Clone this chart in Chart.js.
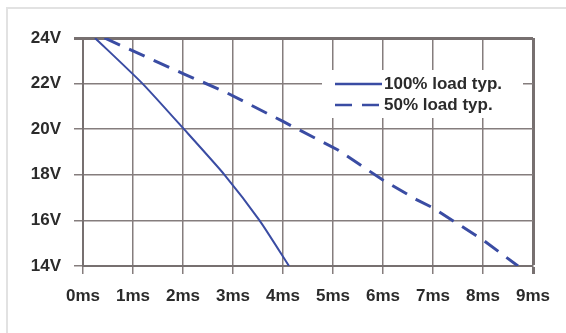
<!DOCTYPE html>
<html>
<head>
<meta charset="utf-8">
<script src="https://cdn.jsdelivr.net/npm/chart.js@4/dist/chart.umd.min.js"></script>
<style>
  html, body { margin: 0; padding: 0; background: #fff; }
  #wrap { position: relative; width: 566px; height: 333px; overflow: hidden; }
  #frame { position: absolute; left: 6px; top: 7px; width: 600px; height: 400px;
           border-left: 2px solid #e2e2e2; border-top: 2px solid #e2e2e2; }
  canvas { position: absolute; left: 0; top: 0; }
</style>
</head>
<body>
<div id="wrap">
  <div id="frame"></div>
  <canvas id="hold" width="566" height="333"></canvas>
</div>
<script>
// hold-up time curves
var labels = ["100% load typ.", "50% load typ."];
var fullTime = [0.24, 1.19, 2.02, 2.83, 3.53, 4.12];
var fullVolt = [24, 22, 20, 18, 16, 14];
var halfTime = [0.43, 2.0, 2.82, 4.0, 5.09, 5.99, 6.68, 7.0, 8.0, 8.7];
var halfVolt = [24, 22.44, 21.66, 20.34, 19.1, 17.78, 16.9, 16.55, 15.14, 14];
var xTicks = ["0ms", "1ms", "2ms", "3ms", "4ms", "5ms", "6ms", "7ms", "8ms", "9ms"];
var yTicks = ["14V", "16V", "18V", "20V", "22V", "24V"];

function pts(xs, ys) {
  var out = [];
  for (var i = 0; i < xs.length; i++) out.push({x: xs[i], y: ys[i]});
  return out;
}

var blue = "#3a4ca3";
var gridCol = "#857d7d";
var edgeCol = "#777070";
var textCol = "#2b2b2b";
var font = "'Liberation Sans', Arial, sans-serif";

// white box + legend drawn inside the plot
var boxLegend = {
  id: "boxLegend",
  afterDraw: function(chart) {
    var c = chart.ctx;
    c.save();
    c.fillStyle = "#fff";
    c.fillRect(322, 70, 201, 48);
    c.strokeStyle = blue;
    c.lineWidth = 2.5;
    c.beginPath();
    c.moveTo(335, 84); c.lineTo(382, 84);
    c.stroke();
    c.setLineDash([17, 10]);
    c.beginPath();
    c.moveTo(335, 105); c.lineTo(382, 105);
    c.stroke();
    c.setLineDash([]);
    c.fillStyle = textCol;
    c.font = "bold 17px " + font;
    c.textBaseline = "middle";
    c.fillText(labels[0], 384, 84);
    c.fillText(labels[1], 384, 105);
    c.restore();
  }
};

var ctx = document.getElementById("hold").getContext("2d");
var chart = new Chart(ctx, {
  type: "line",
  data: {
    datasets: [
      {
        label: labels[0],
        data: pts(fullTime, fullVolt),
        borderColor: blue,
        borderWidth: 2,
        pointRadius: 0,
        tension: 0.2
      },
      {
        label: labels[1],
        data: pts(halfTime, halfVolt),
        borderColor: blue,
        borderWidth: 3,
        borderDash: [17, 10],
        pointRadius: 0,
        tension: 0
      }
    ]
  },
  options: {
    responsive: false,
    animation: false,
    layout: { padding: { left: 0, top: 38, right: 33, bottom: 0 } },
    plugins: { legend: { display: false }, tooltip: { enabled: false } },
    scales: {
      x: {
        type: "linear",
        min: 0,
        max: 9,
        afterFit: function(s) { s.height = 67; },
        ticks: {
          stepSize: 1,
          padding: 12,
          color: textCol,
          font: { family: font, size: 17, weight: "bold" },
          callback: function(v) { return xTicks[v]; }
        },
        grid: {
          color: function(c) { return c.tick && c.tick.value === 9 ? edgeCol : gridCol; },
          lineWidth: function(c) { return c.tick && c.tick.value === 9 ? 3 : 1.5; },
          tickLength: 8
        },
        border: { color: edgeCol, width: 2 }
      },
      y: {
        min: 14,
        max: 24,
        afterFit: function(s) { s.width = 83; },
        ticks: {
          stepSize: 2,
          padding: 13,
          color: textCol,
          font: { family: font, size: 17, weight: "bold" },
          callback: function(v) { return yTicks[(v - 14) / 2]; }
        },
        grid: {
          color: function(c) { return c.tick && c.tick.value === 24 ? edgeCol : gridCol; },
          lineWidth: function(c) { return c.tick && c.tick.value === 24 ? 3 : 1.5; },
          tickLength: 9
        },
        border: { color: edgeCol, width: 2 }
      }
    }
  },
  plugins: [boxLegend]
});
</script>
</body>
</html>
